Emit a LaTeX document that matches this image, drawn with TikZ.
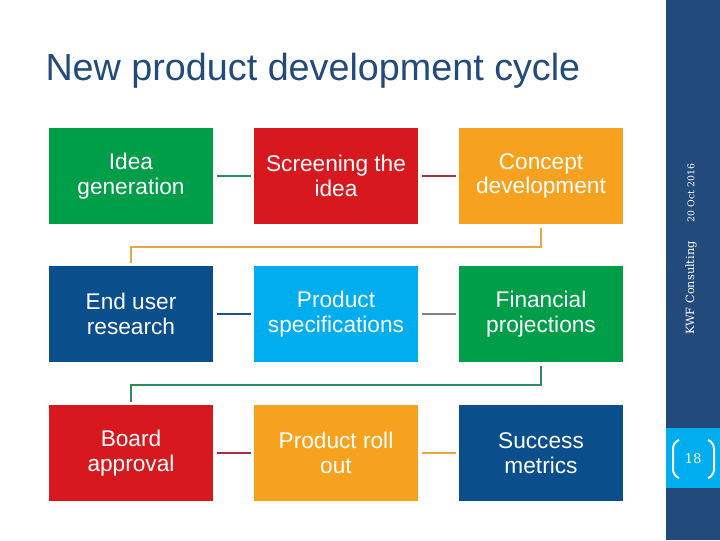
\documentclass[tikz,border=0pt]{standalone}
\usepackage{fontspec}
\setmainfont{Liberation Sans}
\newfontfamily\slabfont{DejaVu Serif}

\definecolor{ndgreen}{HTML}{009E49}
\definecolor{ndred}{HTML}{D7191F}
\definecolor{ndorange}{HTML}{F6A21E}
\definecolor{nddarkblue}{HTML}{0B4E8C}
\definecolor{ndlightblue}{HTML}{00AEEF}
\definecolor{ndside}{HTML}{224A7B}
\definecolor{lnteal}{HTML}{2C8C5E}
\definecolor{lnred}{HTML}{A3333D}
\definecolor{lngold}{HTML}{E3AA40}
\definecolor{lnblue}{HTML}{1F4E8C}
\definecolor{lngray}{HTML}{808080}

\tikzset{every picture/.style={line width=0.75pt}}
\tikzset{
  stagebox/.style={fill=#1, text=white, minimum width=123pt, minimum height=72pt,
    inner sep=0pt, align=center, font=\fontsize{17}{18.5}\selectfont},
  link/.style={draw=#1, line width=1.5pt, shorten <=2.25pt, shorten >=2.25pt}
}

\begin{document}
\begin{tikzpicture}[x=0.75pt,y=0.75pt,yscale=-1,xscale=1]
\useasboundingbox (0,0) rectangle (720,540);

%Side bar
\fill [ndside] (666,0) rectangle (720,540);
\fill [ndlightblue] (666,428) rectangle (720,488);

% Title
\node (title) [anchor=base west, inner sep=0pt, text=ndside, font=\fontsize{28.3}{32}\selectfont] at (45,80) {New product development cycle};

% Stage boxes
\node (idea) [stagebox=ndgreen] at (131,176) {Idea\\generation};
\node (screen) [stagebox=ndred] at (336,176) {Screening the\\idea};
\node (concept) [stagebox=ndorange] at (541,176) {Concept\\development};
\node (enduser) [stagebox=nddarkblue] at (131,314) {End user\\research};
\node (spec) [stagebox=ndlightblue] at (336,314) {Product\\specifications};
\node (financial) [stagebox=ndgreen] at (541,314) {Financial\\projections};
\node (board) [stagebox=ndred] at (131,453) {Board\\approval};
\node (rollout) [stagebox=ndorange] at (336,453) {Product roll\\out};
\node (success) [stagebox=nddarkblue] at (541,453) {Success\\metrics};

%Straight Lines
\draw [link=lnteal] (idea) -- (screen);
\draw [link=lnred] (screen) -- (concept);
\draw [link=lnblue] (enduser) -- (spec);
\draw [link=lngray] (spec) -- (financial);
\draw [link=lnred] (board) -- (rollout);
\draw [link=lngold] (rollout) -- (success);
% row to row
\draw [link=lngold] (concept.south) -- ++(0,22) -| (enduser.north);
\draw [link=lnteal] (financial.south) -- ++(0,22) -| (board.north);

% Text Node
\node (date) [rotate=90, text=white, inner sep=0pt, font=\slabfont\fontsize{7}{8}\selectfont] at (691,193) {20 Oct 2016};
\node (firm) [rotate=90, text=white, inner sep=0pt, font=\slabfont\fontsize{8.5}{10}\selectfont] at (691,288) {KWF Consulting};
\node (pagenum) [text=white, inner sep=0pt, font=\slabfont\fontsize{10}{12}\selectfont] at (693,459) {18};
% brackets
\draw [white, line width=1.5pt, rounded corners=4] (679,440) -- (673,443) -- (673,475) -- (679,478);
\draw [white, line width=1.5pt, rounded corners=4] (708,440) -- (714,443) -- (714,475) -- (708,478);

\end{tikzpicture}
\end{document}
